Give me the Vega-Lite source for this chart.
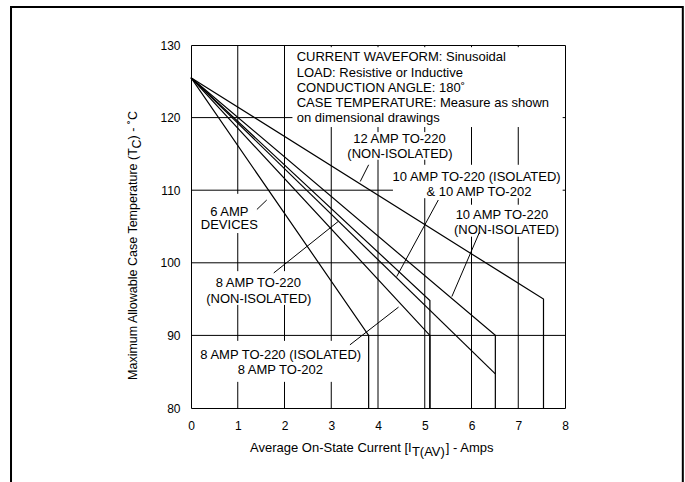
{
  "$schema": "https://vega.github.io/schema/vega-lite/v6.json",
  "width": 374,
  "height": 363,
  "autosize": {"type": "none"},
  "padding": {"left": 191, "top": 45, "right": 120, "bottom": 74},
  "background": "white",
  "config": {
    "view": {"stroke": "#000", "strokeWidth": 1},
    "font": "Liberation Sans"
  },
  "datasets": {
    "grid": [
      {"x": 1, "y": 80, "x2": 1, "y2": 83.6},
      {"x": 1, "y": 89.25, "x2": 1, "y2": 94.2},
      {"x": 1, "y": 98.85, "x2": 1, "y2": 104.1},
      {"x": 1, "y": 109.5, "x2": 1, "y2": 130},
      {"x": 2, "y": 80, "x2": 2, "y2": 83.6},
      {"x": 2, "y": 89.25, "x2": 2, "y2": 94.2},
      {"x": 2, "y": 98.85, "x2": 2, "y2": 130},
      {"x": 3, "y": 80, "x2": 3, "y2": 83.6},
      {"x": 3, "y": 89.25, "x2": 3, "y2": 118.7},
      {"x": 3, "y": 129.7, "x2": 3, "y2": 130},
      {"x": 4, "y": 80, "x2": 4, "y2": 114.2},
      {"x": 4, "y": 118.0, "x2": 4, "y2": 118.7},
      {"x": 4, "y": 129.7, "x2": 4, "y2": 130},
      {"x": 5, "y": 80, "x2": 5, "y2": 108.9},
      {"x": 5, "y": 113.5, "x2": 5, "y2": 114.2},
      {"x": 5, "y": 118.0, "x2": 5, "y2": 118.7},
      {"x": 5, "y": 129.7, "x2": 5, "y2": 130},
      {"x": 6, "y": 80, "x2": 6, "y2": 103.6},
      {"x": 6, "y": 108.0, "x2": 6, "y2": 108.9},
      {"x": 6, "y": 113.5, "x2": 6, "y2": 118.7},
      {"x": 6, "y": 129.7, "x2": 6, "y2": 130},
      {"x": 7, "y": 80, "x2": 7, "y2": 103.6},
      {"x": 7, "y": 108.0, "x2": 7, "y2": 108.9},
      {"x": 7, "y": 113.5, "x2": 7, "y2": 118.7},
      {"x": 7, "y": 129.7, "x2": 7, "y2": 130},
      {"x": 0, "y": 90, "x2": 8, "y2": 90},
      {"x": 0, "y": 100, "x2": 8, "y2": 100},
      {"x": 0, "y": 110, "x2": 4.32, "y2": 110},
      {"x": 7.95, "y": 110, "x2": 8, "y2": 110},
      {"x": 0, "y": 120, "x2": 2.17, "y2": 120},
      {"x": 7.95, "y": 120, "x2": 8, "y2": 120}
    ],
    "curves": [
      {"s": "6 AMP DEVICES", "i": 0, "x": 0, "y": 125.5},
      {"s": "6 AMP DEVICES", "i": 1, "x": 3.8, "y": 90},
      {"s": "6 AMP DEVICES", "i": 2, "x": 3.8, "y": 80},
      {"s": "8 AMP TO-220 (ISOLATED) / 8 AMP TO-202", "i": 0, "x": 0, "y": 125.5},
      {"s": "8 AMP TO-220 (ISOLATED) / 8 AMP TO-202", "i": 1, "x": 5.11, "y": 90},
      {"s": "8 AMP TO-220 (ISOLATED) / 8 AMP TO-202", "i": 2, "x": 5.11, "y": 80},
      {"s": "8 AMP TO-220 (NON-ISOLATED)", "i": 0, "x": 0, "y": 125.5},
      {"s": "8 AMP TO-220 (NON-ISOLATED)", "i": 1, "x": 5.11, "y": 94.8},
      {"s": "8 AMP TO-220 (NON-ISOLATED)", "i": 2, "x": 5.11, "y": 80},
      {"s": "10 AMP TO-220 (ISOLATED) & 10 AMP TO-202", "i": 0, "x": 0, "y": 125.5},
      {"s": "10 AMP TO-220 (ISOLATED) & 10 AMP TO-202", "i": 1, "x": 6.51, "y": 84.7},
      {"s": "10 AMP TO-220 (NON-ISOLATED)", "i": 0, "x": 0, "y": 125.5},
      {"s": "10 AMP TO-220 (NON-ISOLATED)", "i": 1, "x": 6.51, "y": 90},
      {"s": "10 AMP TO-220 (NON-ISOLATED)", "i": 2, "x": 6.51, "y": 80},
      {"s": "12 AMP TO-220 (NON-ISOLATED)", "i": 0, "x": 0, "y": 125.5},
      {"s": "12 AMP TO-220 (NON-ISOLATED)", "i": 1, "x": 7.54, "y": 95},
      {"s": "12 AMP TO-220 (NON-ISOLATED)", "i": 2, "x": 7.54, "y": 80}
    ],
    "leaders": [
      {"x": 3.62, "y": 111.2, "x2": 3.8, "y2": 113.5},
      {"x": 5.29, "y": 108.65, "x2": 4.4, "y2": 98.1},
      {"x": 6.17, "y": 104.2, "x2": 5.58, "y2": 95.35},
      {"x": 1.41, "y": 107.35, "x2": 1.62, "y2": 108.65},
      {"x": 1.77, "y": 98.6, "x2": 3.15, "y2": 105.7},
      {"x": 3.4, "y": 88.7, "x2": 4.44, "y2": 93.9}
    ],
    "labels": [
      {"label": "12 AMP TO-220", "x": 4.46, "y": 117.0},
      {"label": "(NON-ISOLATED)", "x": 4.47, "y": 115.0},
      {"label": "10 AMP TO-220 (ISOLATED)", "x": 6.11, "y": 111.85},
      {"label": "& 10 AMP TO-202", "x": 6.16, "y": 109.8},
      {"label": "10 AMP TO-220", "x": 6.65, "y": 106.6},
      {"label": "(NON-ISOLATED)", "x": 6.75, "y": 104.55},
      {"label": "6 AMP", "x": 0.82, "y": 107.05},
      {"label": "DEVICES", "x": 0.82, "y": 105.15},
      {"label": "8 AMP TO-220", "x": 1.44, "y": 97.2},
      {"label": "(NON-ISOLATED)", "x": 1.45, "y": 95.0},
      {"label": "8 AMP TO-220 (ISOLATED)", "x": 1.92, "y": 87.35},
      {"label": "8 AMP TO-202", "x": 1.91, "y": 85.3}
    ],
    "notes": [
      {"label": "CURRENT WAVEFORM: Sinusoidal", "x": 2.261, "y": 128.39},
      {"label": "LOAD: Resistive or Inductive", "x": 2.261, "y": 126.18},
      {"label": "CONDUCTION ANGLE: 180˚", "x": 2.261, "y": 124.04},
      {"label": "CASE TEMPERATURE: Measure as shown", "x": 2.261, "y": 121.97},
      {"label": "on dimensional drawings", "x": 2.261, "y": 119.9}
    ],
    "xtitle": [
      {"label": "Average On-State Current [I", "x": 1.262, "y": 74.49},
      {"label": "] - Amps", "x": 5.451, "y": 74.49}
    ],
    "xtitlesub": [
      {"label": "T(AV)", "x": 4.725, "y": 74.49}
    ],
    "ytitle": [
      {"label": "Maximum Allowable Case Temperature (T", "x": -1.241, "y": 83.86},
      {"label": ") - ˚C", "x": -1.241, "y": 116.99}
    ],
    "ytitlesub": [
      {"label": "C", "x": -1.241, "y": 115.75}
    ],
    "frame": [
      {"x": -3.85, "x2": 10.52, "y": 135.23, "y2": 68.7}
    ]
  },
  "encoding": {
    "x": {
      "field": "x", "type": "quantitative",
      "scale": {"domain": [0, 8], "nice": false, "zero": false},
      "axis": {
        "values": [0, 1, 2, 3, 4, 5, 6, 7, 8], "title": null, "domain": false,
        "ticks": false, "tickSize": 0, "labelPadding": 12, "labelFontSize": 12,
        "labelColor": "#000", "labelFont": "Liberation Sans", "labelFlush": false,
        "grid": false
      }
    },
    "y": {
      "field": "y", "type": "quantitative",
      "scale": {"domain": [80, 130], "nice": false, "zero": false},
      "axis": {
        "values": [80, 90, 100, 110, 120, 130], "title": null, "domain": false,
        "ticks": false, "tickSize": 0, "labelPadding": 11, "labelFontSize": 12,
        "labelColor": "#000", "labelFont": "Liberation Sans", "labelFlush": false,
        "grid": false
      }
    }
  },
  "layer": [
    {
      "data": {"name": "grid"},
      "mark": {"type": "rule", "color": "#000", "strokeWidth": 1},
      "encoding": {"x2": {"field": "x2"}, "y2": {"field": "y2"}}
    },
    {
      "data": {"name": "curves"},
      "mark": {"type": "line", "color": "#000", "strokeWidth": 1.2},
      "encoding": {"detail": {"field": "s", "type": "nominal"}, "order": {"field": "i", "type": "quantitative"}}
    },
    {
      "data": {"name": "leaders"},
      "mark": {"type": "rule", "color": "#000", "strokeWidth": 1},
      "encoding": {"x2": {"field": "x2"}, "y2": {"field": "y2"}}
    },
    {
      "data": {"name": "labels"},
      "mark": {"type": "text", "align": "center", "baseline": "middle", "fontSize": 13, "font": "Liberation Sans", "color": "#000"},
      "encoding": {"text": {"field": "label", "type": "nominal"}}
    },
    {
      "data": {"name": "notes"},
      "mark": {"type": "text", "align": "left", "baseline": "middle", "fontSize": 13, "font": "Liberation Sans", "color": "#000"},
      "encoding": {"text": {"field": "label", "type": "nominal"}}
    },
    {
      "data": {"name": "xtitle"},
      "mark": {"type": "text", "align": "left", "baseline": "middle", "fontSize": 13, "font": "Liberation Sans", "color": "#000"},
      "encoding": {"text": {"field": "label", "type": "nominal"}}
    },
    {
      "data": {"name": "xtitlesub"},
      "mark": {"type": "text", "align": "left", "baseline": "middle", "fontSize": 13, "font": "Liberation Sans", "color": "#000", "dy": 4},
      "encoding": {"text": {"field": "label", "type": "nominal"}}
    },
    {
      "data": {"name": "ytitle"},
      "mark": {"type": "text", "align": "left", "baseline": "middle", "angle": 270, "fontSize": 12.5, "font": "Liberation Sans", "color": "#000"},
      "encoding": {"text": {"field": "label", "type": "nominal"}}
    },
    {
      "data": {"name": "ytitlesub"},
      "mark": {"type": "text", "align": "left", "baseline": "middle", "angle": 270, "fontSize": 12.5, "font": "Liberation Sans", "color": "#000", "dy": 4},
      "encoding": {"text": {"field": "label", "type": "nominal"}}
    },
    {
      "data": {"name": "frame"},
      "mark": {"type": "rect", "filled": false, "stroke": "#000", "strokeWidth": 2},
      "encoding": {"x2": {"field": "x2"}, "y2": {"field": "y2"}}
    }
  ]
}
